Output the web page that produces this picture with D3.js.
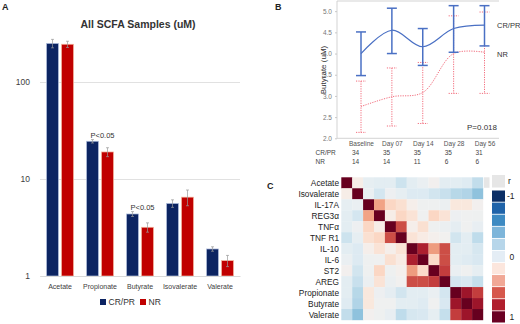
<!DOCTYPE html>
<html>
<head>
<meta charset="utf-8">
<script src="https://cdn.jsdelivr.net/npm/d3@7"></script>
<style>
  body { margin: 0; background: #fff; }
  text { font-family: "Liberation Sans", Arial, sans-serif; }
</style>
</head>
<body>
<div id="chart"></div>
<script>
/**
 * Data
 */
// Panel A - SCFA concentrations (uM), log scale
const categories = ["Acetate", "Propionate", "Butyrate", "Isovalerate", "Valerate"];
const groups = ["CR/PR", "NR"];
const crprMean = [250, 24.5, 4.36, 5.6, 1.9];
const crprErr = [25, 1.0, 0.25, 0.5, 0.1];
const nrMean = [245, 19, 3.18, 6.5, 1.44];
const nrErr = [18, 2.0, 0.35, 1.2, 0.19];
const pLabels = ["", "P<0.05", "P<0.05", "", ""];
const aTicks = [1, 10, 100];

// Panel B - butyrate over time
const days = ["Baseline", "Day 07", "Day 14", "Day 28", "Day 56"];
const crprButyrate = [4.0, 4.55, 4.16, 4.59, 4.67];
const crprLow = [3.48, 4.0, 3.72, 4.03, 4.18];
const crprHigh = [4.51, 5.07, 4.59, 5.13, 5.13];
const nrButyrate = [2.75, 2.98, 3.08, 4.0, 4.03];
const nrLow = [2.14, 2.29, 2.35, 3.06, 3.06];
const nrHigh = [3.35, 3.66, 3.79, 4.89, 4.98];
const crprN = [34, 35, 35, 35, 31];
const nrN = [14, 14, 11, 6, 6];
const bTicks = [2.0, 2.5, 3.0, 3.5, 4.0, 4.5, 5.0];

// Panel C - correlation matrix (lower triangle, mirrored below)
const markers = ["Acetate", "Isovalerate", "IL-17A", "REG3\u03b1", "TNF\u03b1", "TNF R1",
  "IL-10", "IL-6", "ST2", "AREG", "Propionate", "Butyrate", "Valerate"];
const corrLower = [
  [],
  [0.05],
  [-0.08, -0.06],
  [-0.1, -0.17, 0.4],
  [-0.1, -0.04, 0.2, 0.05],
  [-0.2, -0.08, 0.15, 0.2, 0.65],
  [-0.1, -0.13, 0.03, 0.13, 0.03, 0.13],
  [-0.06, -0.13, -0.03, -0.02, 0.15, 0.07, 0.8],
  [0.0, -0.18, -0.03, 0.2, -0.03, 0.02, 0.42, 0.18],
  [-0.1, -0.22, -0.05, 0.13, -0.05, -0.01, 0.65, 0.65, 0.7],
  [-0.1, -0.28, 0.1, -0.04, -0.09, -0.18, -0.1, -0.1, -0.06, -0.17],
  [-0.12, -0.3, 0.1, -0.02, -0.02, -0.1, -0.1, -0.12, -0.02, -0.15, 0.85],
  [-0.24, -0.4, 0.0, -0.03, -0.07, -0.25, -0.16, -0.15, -0.08, -0.23, 0.7, 0.85]
];
const legendTicks = [-1, 0, 1];

const svg = d3.select("#chart")
  .append("svg")
  .attr("width", 520)
  .attr("height", 324)
  .style("background", "#fff");

/**
 * Panel A
 */
const gA = svg.append("g");

gA.append("text").attr("x", 2).attr("y", 10)
  .attr("font-size", 9).attr("font-weight", "bold").attr("fill", "#222").text("A");

gA.append("text").attr("x", 138).attr("y", 28)
  .attr("text-anchor", "middle").attr("font-size", 10.5).attr("font-weight", "bold")
  .attr("fill", "#333").text("All SCFA Samples (uM)");

const yA = d3.scaleLog().domain([1, 100]).range([276, 82]);

const x0 = d3.scaleBand()
  .domain(categories)
  .range([40, 240])
  .paddingInner(0.325)
  .paddingOuter(0.1625);

const x1 = d3.scaleBand()
  .domain(groups)
  .range([0, x0.bandwidth()])
  .paddingInner(0.2);

// gridlines
gA.append("g")
  .attr("transform", "translate(40,0)")
  .call(d3.axisLeft(yA).tickValues(aTicks).tickSize(-200).tickFormat(d3.format("d")))
  .call(g => g.select(".domain").remove())
  .call(g => g.selectAll("line").attr("stroke", "#d9d9d9").attr("stroke-width", 0.8))
  .call(g => g.selectAll("text").attr("x", -10).attr("font-size", 8.5).attr("fill", "#404040"));

const barData = [];
categories.forEach((c, i) => {
  barData.push({ cat: c, grp: "CR/PR", v: crprMean[i], e: crprErr[i] });
  barData.push({ cat: c, grp: "NR", v: nrMean[i], e: nrErr[i] });
});

const fillA = { "CR/PR": "#0c2462", "NR": "#c00000" };
const edgeA = { "CR/PR": "#b4c2e0", "NR": "#f4b8a0" };

gA.selectAll(".bar")
  .data(barData)
  .enter()
  .append("rect")
  .attr("class", "bar")
  .attr("x", d => x0(d.cat) + x1(d.grp))
  .attr("y", d => yA(d.v))
  .attr("width", x1.bandwidth())
  .attr("height", d => yA(1) - yA(d.v))
  .attr("fill", d => fillA[d.grp])
  .attr("stroke", d => edgeA[d.grp])
  .attr("stroke-width", 0.7);

// error bars
const errA = gA.selectAll(".err")
  .data(barData)
  .enter()
  .append("g")
  .attr("class", "err")
  .attr("transform", d => `translate(${x0(d.cat) + x1(d.grp) + x1.bandwidth() / 2},0)`)
  .attr("stroke", "#9a9a9a")
  .attr("stroke-width", 0.7);
errA.append("line").attr("y1", d => yA(d.v + d.e)).attr("y2", d => yA(d.v - d.e));
errA.append("line").attr("x1", -1.5).attr("x2", 1.5).attr("y1", d => yA(d.v + d.e)).attr("y2", d => yA(d.v + d.e));
errA.append("line").attr("x1", -1.5).attr("x2", 1.5).attr("y1", d => yA(d.v - d.e)).attr("y2", d => yA(d.v - d.e));

// baseline axis
gA.append("g")
  .attr("transform", `translate(0,${yA(1)})`)
  .call(d3.axisBottom(x0).tickSize(0).tickPadding(8))
  .call(g => g.select(".domain").attr("stroke", "#d9d9d9"))
  .call(g => g.selectAll("text").attr("font-size", 7).attr("fill", "#404040"));

// significance labels
gA.selectAll(".plab")
  .data(categories.filter((c, i) => pLabels[i]))
  .enter()
  .append("text")
  .attr("class", "plab")
  .attr("x", c => x0(c) + 16)
  .attr("y", c => {
    const i = categories.indexOf(c);
    return yA(crprMean[i] + crprErr[i]) - 2;
  })
  .attr("text-anchor", "middle")
  .attr("font-size", 7.5)
  .attr("fill", "#333")
  .text(c => pLabels[categories.indexOf(c)]);

// legend
const legA = gA.selectAll(".legA")
  .data(groups)
  .enter()
  .append("g")
  .attr("class", "legA")
  .attr("transform", (d, i) => `translate(${100 + i * 40},299)`);
legA.append("rect").attr("width", 6).attr("height", 6).attr("fill", d => fillA[d]);
legA.append("text").attr("x", 8.5).attr("y", 6).attr("font-size", 8.5).attr("fill", "#333").text(d => d);

/**
 * Panel B
 */
const gB = svg.append("g");

gB.append("text").attr("x", 275).attr("y", 10)
  .attr("font-size", 9).attr("font-weight", "bold").attr("fill", "#222").text("B");

const xB = d3.scalePoint().domain(days).range([361, 484.5]);
const yB = d3.scaleLinear().domain([2.0, 5.24]).range([138.3, 1]);

// frame
gB.append("path")
  .attr("d", `M499,${yB(5.24)}H337V${yB(2.0)}H499`)
  .attr("fill", "none")
  .attr("stroke", "#c8c8c8")
  .attr("stroke-width", 0.8);

gB.append("g")
  .attr("transform", "translate(337,0)")
  .call(d3.axisLeft(yB).tickValues(bTicks).tickSize(2).tickFormat(d3.format(".1f")))
  .call(g => g.select(".domain").remove())
  .call(g => g.selectAll("line").attr("stroke", "#c8c8c8"))
  .call(g => g.selectAll("text").attr("font-size", 6.5).attr("fill", "#777"));

gB.append("text")
  .attr("transform", "translate(326,70) rotate(-90)")
  .attr("text-anchor", "middle")
  .attr("font-size", 8)
  .attr("fill", "#333")
  .text("Butyrate (uM)");

gB.append("g")
  .attr("transform", `translate(0,${yB(2.0)})`)
  .call(d3.axisBottom(xB).tickSize(0).tickPadding(3))
  .call(g => g.select(".domain").remove())
  .call(g => g.selectAll("text").attr("font-size", 6.5).attr("fill", "#555"));

// n table
const nRows = [{ name: "CR/PR", n: crprN, y: 155 }, { name: "NR", n: nrN, y: 164 }];
nRows.forEach(r => {
  gB.append("text").attr("x", 315.5).attr("y", r.y).attr("font-size", 6.5).attr("fill", "#444").text(r.name);
  gB.selectAll(null)
    .data(r.n)
    .enter()
    .append("text")
    .attr("x", (d, i) => xB(days[i]) - 9)
    .attr("y", r.y)
    .attr("font-size", 6.5)
    .attr("fill", "#444")
    .text(d => d);
});

const lineB = d3.line()
  .x((d, i) => xB(days[i]))
  .y(d => yB(d))
  .curve(d3.curveCatmullRom);

const seriesB = [
  { mean: nrButyrate, lo: nrLow, hi: nrHigh, color: "#f26d7d", dash: "1.2,1.2", lw: 1, ew: 1 },
  { mean: crprButyrate, lo: crprLow, hi: crprHigh, color: "#4a70c4", dash: null, lw: 1.2, ew: 1.5 }
];

seriesB.forEach(s => {
  const eb = gB.selectAll(null)
    .data(days)
    .enter()
    .append("g")
    .attr("transform", d => `translate(${xB(d)},0)`)
    .attr("stroke", s.color)
    .attr("stroke-width", s.ew)
    .attr("stroke-dasharray", s.dash);
  eb.append("line").attr("y1", (d, i) => yB(s.hi[i])).attr("y2", (d, i) => yB(s.lo[i]));
  eb.append("line").attr("x1", -5).attr("x2", 5).attr("y1", (d, i) => yB(s.hi[i])).attr("y2", (d, i) => yB(s.hi[i]));
  eb.append("line").attr("x1", -5).attr("x2", 5).attr("y1", (d, i) => yB(s.lo[i])).attr("y2", (d, i) => yB(s.lo[i]));

  gB.append("path")
    .datum(s.mean)
    .attr("d", lineB)
    .attr("fill", "none")
    .attr("stroke", s.color)
    .attr("stroke-width", s.lw)
    .attr("stroke-dasharray", s.dash);
});

gB.append("text").attr("x", 497).attr("y", 28).attr("font-size", 7.5).attr("fill", "#333").text("CR/PR");
gB.append("text").attr("x", 497).attr("y", 57).attr("font-size", 7.5).attr("fill", "#333").text("NR");
gB.append("text").attr("x", 497).attr("y", 130).attr("text-anchor", "end")
  .attr("font-size", 8).attr("fill", "#333").text("P=0.018");

/**
 * Panel C
 */
const gC = svg.append("g");

gC.append("text").attr("x", 267).attr("y", 189)
  .attr("font-size", 9).attr("font-weight", "bold").attr("fill", "#222").text("C");

const corr = markers.map((a, i) => markers.map((b, j) => {
  if (i === j) return 1;
  return i > j ? corrLower[i][j] : corrLower[j][i];
}));

const cellX = d3.scaleBand().domain(markers).range([341.3, 483]);
const cellY = d3.scaleBand().domain(markers).range([177.3, 320]);
const colorC = r => d3.interpolateRdBu((1 - r) / 2);

const cells = [];
corr.forEach((row, i) => row.forEach((r, j) => cells.push({ row: markers[i], col: markers[j], r: r })));

gC.selectAll(".cell")
  .data(cells)
  .enter()
  .append("rect")
  .attr("class", "cell")
  .attr("x", d => cellX(d.col))
  .attr("y", d => cellY(d.row))
  .attr("width", cellX.bandwidth() + 0.2)
  .attr("height", cellY.bandwidth() + 0.2)
  .attr("fill", d => colorC(d.r));

gC.selectAll(".rlab")
  .data(markers)
  .enter()
  .append("text")
  .attr("class", "rlab")
  .attr("x", 339)
  .attr("y", d => cellY(d) + cellY.bandwidth() / 2 + 3)
  .attr("text-anchor", "end")
  .attr("font-size", 8.3)
  .attr("fill", "#222")
  .text(d => d);

// grey header cells
gC.append("rect").attr("x", 484).attr("y", 177.3).attr("width", 5.5).attr("height", 10.5).attr("fill", "#e6e6e6");
gC.append("rect").attr("x", 492).attr("y", 175).attr("width", 13).attr("height", 12.5).attr("fill", "#e6e6e6");
gC.append("text").attr("x", 508).attr("y", 184).attr("font-size", 8.5).attr("fill", "#222").text("r");

// colour key
const keyColors = ["#0b2f66", "#1f63a9", "#3d8ac2", "#7db5da", "#b7d6ea", "#e4edf5",
  "#fce6dd", "#f1a896", "#d6584c", "#b01f2d", "#6a0022"];
const keyY = d3.scaleBand().domain(d3.range(keyColors.length)).range([190.5, 322.5]).paddingInner(0.07);

gC.selectAll(".key")
  .data(keyColors)
  .enter()
  .append("rect")
  .attr("class", "key")
  .attr("x", 492)
  .attr("y", (d, i) => keyY(i))
  .attr("width", 13)
  .attr("height", keyY.bandwidth())
  .attr("fill", d => d);

const keyScale = d3.scaleLinear().domain([-1, 1]).range([keyY(0) + keyY.bandwidth() / 2, keyY(10) + keyY.bandwidth() / 2]);
gC.selectAll(".klab")
  .data(legendTicks)
  .enter()
  .append("text")
  .attr("class", "klab")
  .attr("x", d => d < 0 ? 507 : 509.5)
  .attr("y", d => keyScale(d) + 3)
  .attr("font-size", 8.5)
  .attr("fill", "#222")
  .text(d => d3.format("d")(d).replace("\u2212", "-"));
</script>
</body>
</html>
